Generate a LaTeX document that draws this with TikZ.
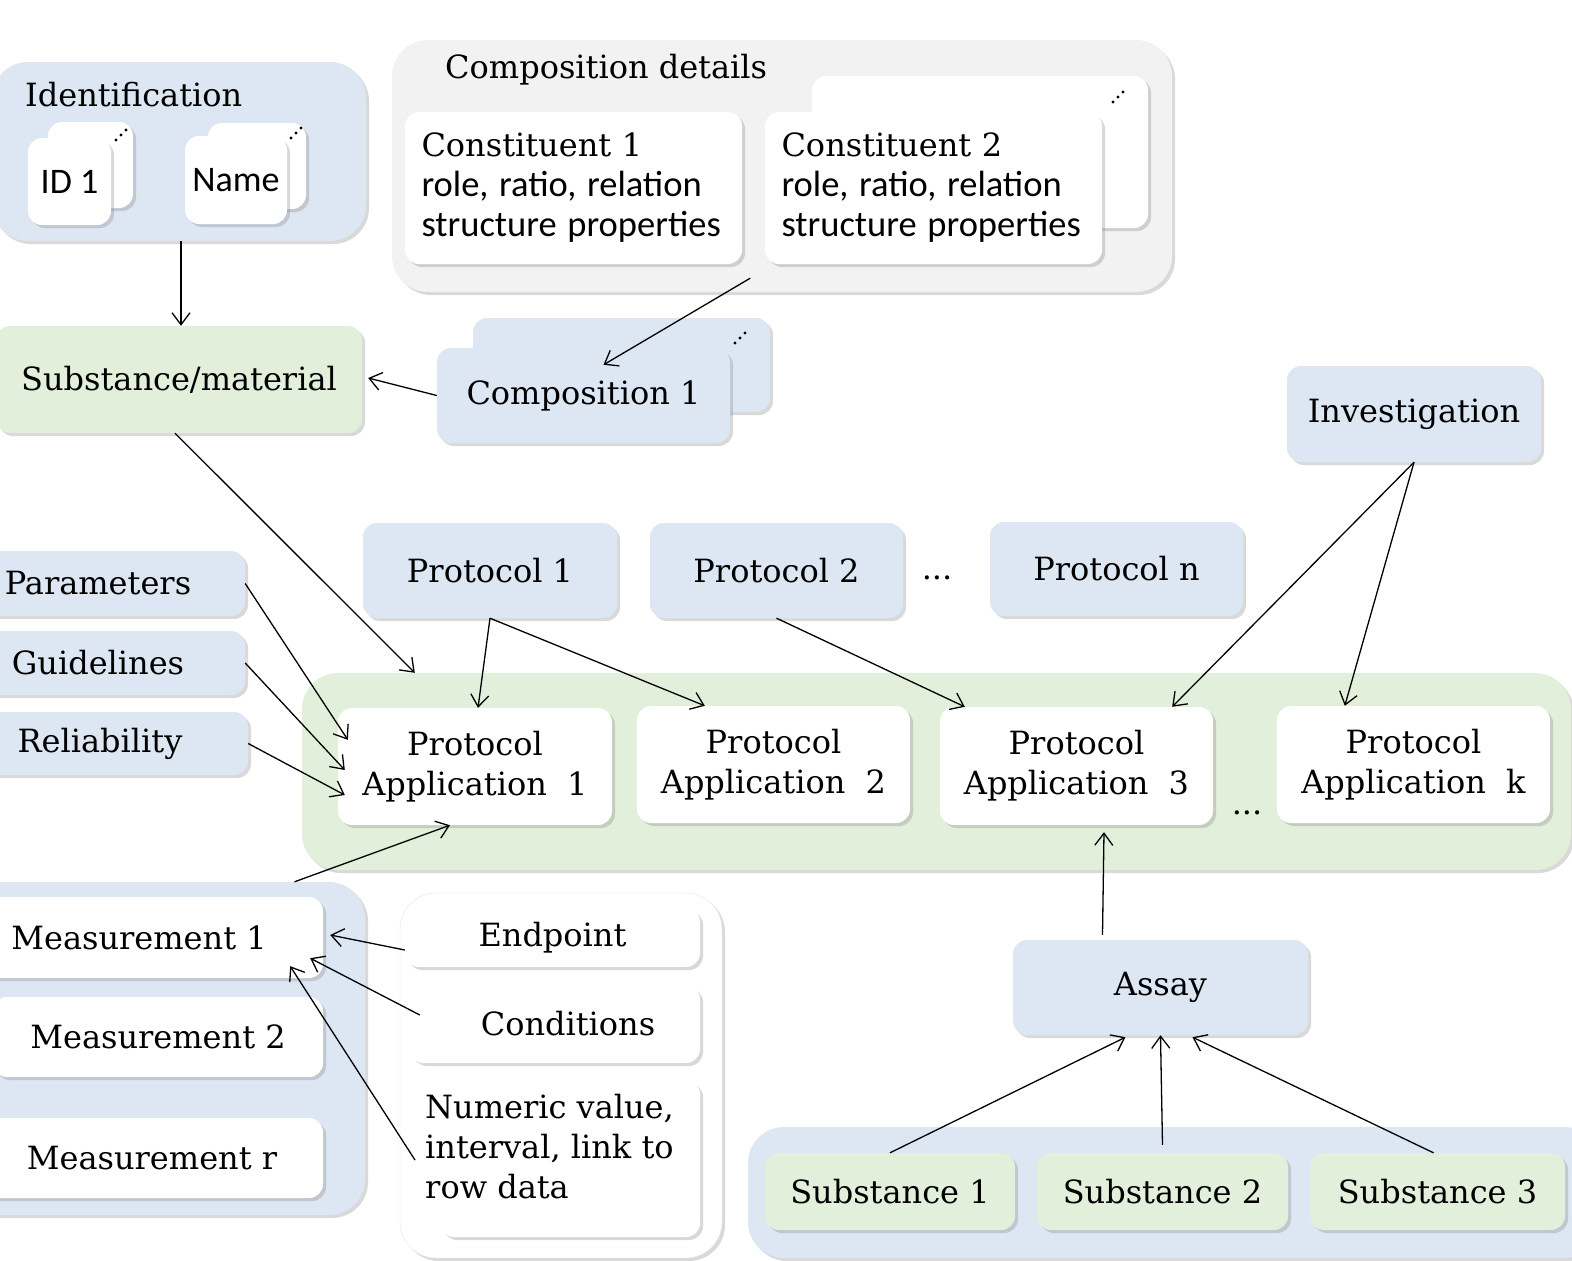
\documentclass[tikz,border=0pt]{standalone}
\usepackage{fontspec}
\setmainfont{DejaVu Serif}
\newfontfamily\sans{Carlito}
\usetikzlibrary{arrows.meta,shadows}
\definecolor{boxblue}{RGB}{220,231,243}
\definecolor{boxgreen}{RGB}{226,239,218}
\definecolor{boxgray}{RGB}{242,242,242}
\def\stackdots(#1,#2){\foreach \d in {0,1,2} \fill ({#1+5*\d},{#2-5*\d}) circle (1.7);}
\tikzset{
	sz/.style 2 args={minimum width=#1, minimum height=#2},
	box/.style={rectangle, rounded corners=14pt, inner sep=0pt,
		drop shadow={shadow xshift=3pt, shadow yshift=-3pt, opacity=.3}},
	bluebox/.style={box, fill=boxblue},
	greenbox/.style={box, fill=boxgreen},
	whitebox/.style={box, fill=white},
	graybox/.style={box, fill=boxgray},
	group/.style={rounded corners=36pt},
	link/.style={-{Straight Barb[length=12pt,width=18pt]}, line width=1.3pt}
}

\begin{document}
\begin{tikzpicture}[x=1pt, y=-1pt, every node/.style={font=\fontsize{32}{40}\selectfont}]
			\useasboundingbox (0,0) rectangle (1572,1261);
			\clip (0,0) rectangle (1572,1261);
			%%%%% START %%%%%
			
			\node[bluebox, group, sz={374}{179}] (ident) at (179,151.5) {};
			\node[anchor=west, inner sep=0pt] (identlabel) at (25,95) {Identification};
			\node[whitebox, sz={85}{86}] (idback) at (90.5,165) {};
			\node[whitebox, sz={83}{87}, font=\sans\fontsize{36}{40}\selectfont] (idone) at (69.5,181.5) {ID 1};
			\node[whitebox, sz={98}{86}] (nameback) at (257,166) {};
			\node[whitebox, sz={102}{88}, font=\sans\fontsize{36}{40}\selectfont] (name) at (236,180) {Name};
			\stackdots(116,140)
			\stackdots(291,138)
			
			\node[graybox, group, sz={780}{252}] (compdet) at (782,166) {};
			\node[anchor=west, inner sep=0pt] (complabel) at (445,70) {Composition details};
			\node[whitebox, sz={336}{152}] (constback) at (980,152) {};
			\node[whitebox, sz={337}{152}, align=left, text width=304] (const1) at (573.5,188)
				{Constituent 1\\{\sans\fontsize{36.5}{40}\selectfont\mbox{role, ratio, relation}}\\{\sans\fontsize{36.5}{40}\selectfont\mbox{structure properties}}};
			\node[whitebox, sz={337}{152}, align=left, text width=304] (const2) at (933.5,188)
				{Constituent 2\\{\sans\fontsize{36.5}{40}\selectfont\mbox{role, ratio, relation}}\\{\sans\fontsize{36.5}{40}\selectfont\mbox{structure properties}}};
			\stackdots(1113,102)
			
			\node[greenbox, sz={366}{107}] (substance) at (179,379.5) {Substance/material};
			\node[bluebox, sz={297}{94}] (compback) at (621.5,365) {};
			\node[bluebox, sz={293}{95}] (comp1) at (583.5,395.5) {Composition 1};
			\stackdots(735,343)
			
			\node[bluebox, sz={254}{96}] (invest) at (1414,414) {Investigation};
			\node[bluebox, sz={254}{95}] (proto1) at (490,570.5) {Protocol 1};
			\node[bluebox, sz={253}{95}] (proto2) at (776.5,570.5) {Protocol 2};
			\node (pdots) at (937,578) {...};
			\node[bluebox, sz={253}{94}] (proton) at (1116.5,569) {Protocol n};
			
			\node[bluebox, sz={294}{65}] (params) at (98,583.5) {Parameters};
			\node[bluebox, sz={294}{64}] (guide) at (98,663) {Guidelines};
			\node[bluebox, sz={296}{63}] (reliab) at (100,743.5) {Reliability};
			
			\node[greenbox, group, sz={1269}{197}] (ga) at (936.5,771.5) {};
			\node[whitebox, sz={274}{117}, align=center] (pa1) at (475,766.5) {Protocol\\Application\ \ 1};
			\node[whitebox, sz={273}{117}, align=center] (pa2) at (773.5,764.5) {Protocol\\Application\ \ 2};
			\node[whitebox, sz={273}{118}, align=center] (pa3) at (1076.5,766) {Protocol\\Application\ \ 3};
			\node (adots) at (1247,813) {...};
			\node[whitebox, sz={273}{117}, align=center] (pak) at (1413.5,764.5) {Protocol\\Application\ \ k};
			
			\node[bluebox, group, sz={405}{333}] (meas) at (162.5,1048.5) {};
			\node[whitebox, sz={368}{81}] (m1) at (139,937.5) {Measurement 1};
			\node[whitebox, sz={330}{80}] (m2) at (158,1037) {Measurement 2};
			\node[whitebox, sz={342}{80}] (mr) at (152,1158) {Measurement r};
			
			\node[whitebox, group, draw=black!10, sz={322}{365}] (detail) at (561,1075.5) {};
			\node[whitebox, sz={295}{59}] (endpoint) at (552.5,937.5) {Endpoint};
			\node[whitebox, sz={290}{78}] (cond) at (555,1024) {\hspace*{26pt}Conditions};
			\node[whitebox, sz={260}{157}] (numeric) at (570,1158.5) {};
			\node[anchor=west, align=left, inner sep=0pt] (numtext) at (425,1147) {Numeric value,\\interval, link to\\row data};
			
			\node[bluebox, sz={295}{95}] (assay) at (1160.5,987.5) {Assay};
			\node[bluebox, group, sz={852}{131}] (subst) at (1174,1192.5) {};
			\node[greenbox, sz={250}{77}] (s1) at (890,1191.5) {Substance 1};
			\node[greenbox, sz={251}{77}] (s2) at (1162.5,1191.5) {Substance 2};
			\node[greenbox, sz={255}{77}] (s3) at (1437.5,1191.5) {Substance 3};
			
			\draw[link] ([xshift=2pt]ident.south) -- ([xshift=2pt]substance.north);
			\draw[link] ([shift={(8pt,-14pt)}]const1.south east) -- ([shift={(20pt,-17pt)}]comp1.north);
			\draw[link] (comp1.west) -- ([shift={(6pt,1.5pt)}]substance.east);
			\draw[link] ([xshift=-4pt]substance.south) -- ([xshift=113pt]ga.north west);
			
			\draw[link] (proto1.south) -- ([xshift=3pt]pa1.north);
			\draw[link] (proto1.south) -- ([xshift=68pt]pa2.north west);
			\draw[link] (proto2.south) -- ([xshift=25pt]pa3.north west);
			\draw[link] (invest.south) -- ([xshift=-41pt]pa3.north east);
			\draw[link] (invest.south) -- ([xshift=68pt]pak.north west);
			
			\draw[link] (params.east) -- ([shift={(10pt,-32pt)}]pa1.north west);
			\draw[link] (guide.east) -- ([shift={(7pt,-3.5pt)}]pa1.west);
			\draw[link] (reliab.east) -- ([shift={(7pt,-28.5pt)}]pa1.west);
			\draw[link] ([xshift=132pt]meas.north) -- ([xshift=-25pt]pa1.south);
			
			\draw[link] ([yshift=-12.5pt]endpoint.west) -- ([shift={(7pt,2.5pt)}]m1.east);
			\draw[link] ([shift={(10pt,9pt)}]cond.west) -- ([shift={(-13pt,20pt)}]m1.south east);
			\draw[link] ([shift={(-10pt,-13pt)}]numtext.west) -- ([shift={(-33pt,12pt)}]m1.south east);
			
			\draw[link] ([shift={(-58pt,5pt)}]assay.north) -- ([shift={(27.5pt,-7pt)}]pa3.south);
			\draw[link] (s1.north) -- ([shift={(-35pt,-2pt)}]assay.south);
			\draw[link] ([yshift=8pt]s2.north) -- (assay.south);
			\draw[link] ([xshift=-4pt]s3.north) -- ([shift={(32pt,-2pt)}]assay.south);
			
			%%%%% END %%%%%
\end{tikzpicture}
\end{document}
